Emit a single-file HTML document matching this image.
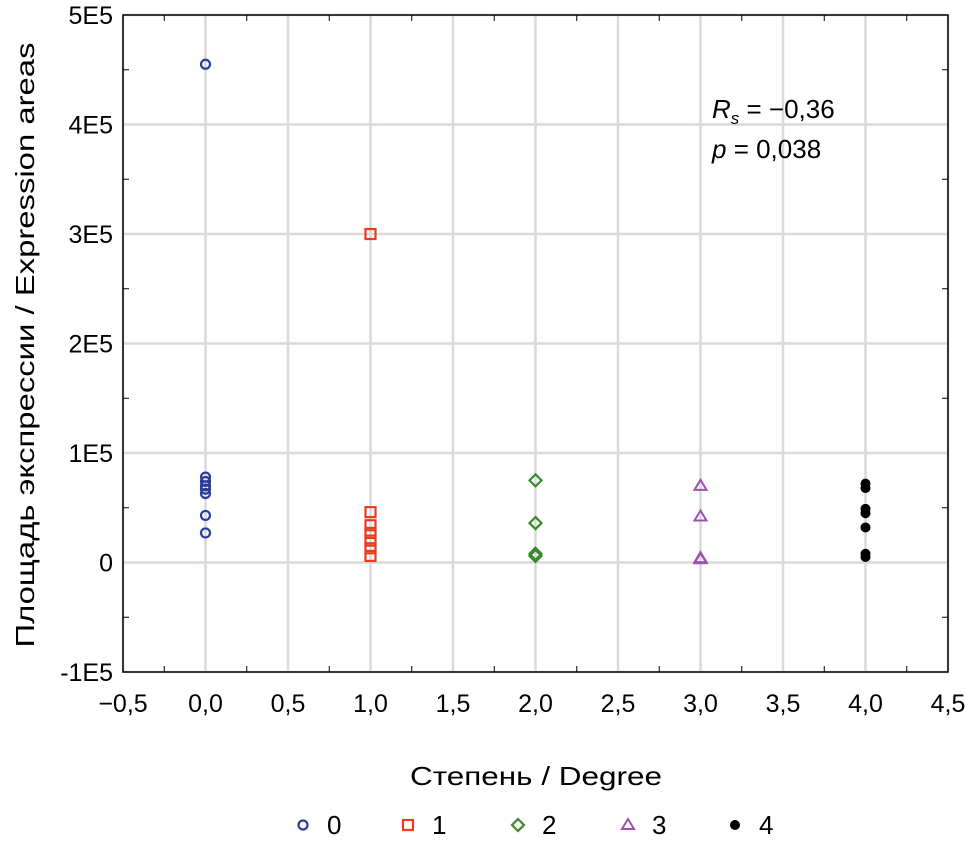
<!DOCTYPE html>
<html><head><meta charset="utf-8"><style>
html,body{margin:0;padding:0;background:#fff;}
svg{display:block;font-family:"Liberation Sans",sans-serif;}
</style></head><body>
<svg id="chart" width="966" height="845" viewBox="0 0 966 845" xmlns="http://www.w3.org/2000/svg">
<g id="grid"></g>
<g id="marks"></g>
<g id="axes"></g>
<text transform="translate(34,345) rotate(-90)" text-anchor="middle" font-size="26" textLength="605" lengthAdjust="spacingAndGlyphs" fill="#000">Площадь экспрессии / Expression areas</text>
<text x="536" y="785" text-anchor="middle" font-size="26" textLength="252" lengthAdjust="spacingAndGlyphs" fill="#000">Степень / Degree</text>
<g font-size="26">
<text x="712" y="118"><tspan font-style="italic">R</tspan><tspan font-style="italic" font-size="17" dy="6">s</tspan><tspan dy="-6"> = −0,36</tspan></text>
<text x="712" y="158"><tspan font-style="italic">p</tspan> = 0,038</text>
</g>
<g id="legend"></g>
</svg>
<script>
const xTicks = [-0.5,0,0.5,1,1.5,2,2.5,3,3.5,4,4.5];
const xTickLabels = ["−0,5","0,0","0,5","1,0","1,5","2,0","2,5","3,0","3,5","4,0","4,5"];
const yTicks = [-100000,0,100000,200000,300000,400000,500000];
const yTickLabels = ["-1E5","0","1E5","2E5","3E5","4E5","5E5"];
const groups = [0,1,2,3,4];
const values0 = [455000,78000,74000,70000,67000,63000,43000,27000];
const values1 = [300000,46000,34000,27000,20000,13000,6000];
const values2 = [75000,36000,8000,6000];
const values3 = [70000,42000,4000,3000];
const values4 = [72000,68000,49000,45000,32000,8000,5000];
const seriesValues = [values0,values1,values2,values3,values4];

const NS="http://www.w3.org/2000/svg";
const L=123,R=948,T=15,B=672;
const xMin=-0.5,xMax=4.5,yMin=-100000,yMax=500000;
function xs(v){return L+(v-xMin)/(xMax-xMin)*(R-L);}
function ys(v){return B-(v-yMin)/(yMax-yMin)*(B-T);}
function mk(tag,attrs,parent){const e=document.createElementNS(NS,tag);for(const k in attrs)e.setAttribute(k,attrs[k]);parent.appendChild(e);return e;}
const grid=document.getElementById('grid'),axes=document.getElementById('axes'),marks=document.getElementById('marks'),legend=document.getElementById('legend');
xTicks.forEach((t,i)=>{
  const g=mk('line',{x1:xs(t),x2:xs(t),y1:T,y2:B,stroke:'#d9d9de','stroke-width':2.5},grid);
  
  
  const lb=mk('text',{x:xs(t),y:B+40,'text-anchor':'middle','font-size':25},axes);
  lb.textContent=xTickLabels[i];
  
  
  if(i<xTicks.length-1){const m=xs(t+0.25);
    mk('line',{x1:m,x2:m,y1:B,y2:B-6,stroke:'#000','stroke-width':1},axes);
    mk('line',{x1:m,x2:m,y1:T,y2:T+6,stroke:'#000','stroke-width':1},axes);}
});
yTicks.forEach((t,i)=>{
  const g=mk('line',{x1:L,x2:R,y1:ys(t),y2:ys(t),stroke:'#d9d9de','stroke-width':2.5},grid);
  
  
  const lb=mk('text',{x:L-10,y:ys(t)+9,'text-anchor':'end','font-size':25},axes);
  lb.textContent=yTickLabels[i];
  
  
  if(i<yTicks.length-1){const m=ys(t+50000);
    mk('line',{x1:L,x2:L+6,y1:m,y2:m,stroke:'#000','stroke-width':1},axes);
    mk('line',{x1:R,x2:R-6,y1:m,y2:m,stroke:'#000','stroke-width':1},axes);}
});
const fr=mk('rect',{x:L,y:T,width:R-L,height:B-T,fill:'none',stroke:'#000','stroke-width':1.5},axes);


const colors=['#2c3f98','#ec3a1e','#3a8a2c','#a052b0','#000'];
function marker(k,x,y,parent){
  const c=colors[k];let e;
  if(k===0)e=mk('circle',{cx:x,cy:y,r:4.5,fill:'none',stroke:c,'stroke-width':2.2},parent);
  else if(k===1)e=mk('rect',{x:x-5,y:y-5,width:10,height:10,fill:'none',stroke:c,'stroke-width':2.2},parent);
  else if(k===2)e=mk('polygon',{points:`${x},${y-6} ${x+6},${y} ${x},${y+6} ${x-6},${y}`,fill:'none',stroke:c,'stroke-width':2.2},parent);
  else if(k===3)e=mk('polygon',{points:`${x},${y-6} ${x+6},${y+4} ${x-6},${y+4}`,fill:'none',stroke:c,'stroke-width':2},parent);
  else e=mk('circle',{cx:x,cy:y,r:5,fill:c},parent);
  return e;
}
seriesValues.forEach((vals,k)=>{vals.forEach(v=>{
  const e=marker(k,xs(groups[k]),ys(v),marks);
  
  
});});
const legX=[303,408,518,628,735];
groups.forEach((g,k)=>{
  const e=marker(k,legX[k],825,legend);
  
  
  const t=mk('text',{x:legX[k]+24,y:834,'font-size':26},legend);
  t.textContent=String(g);
  
  
});
</script>
</body></html>
